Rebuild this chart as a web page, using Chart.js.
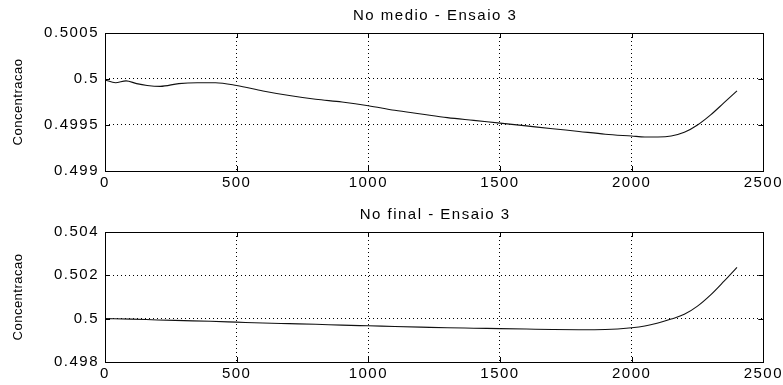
<!DOCTYPE html>
<html>
<head>
<meta charset="utf-8">
<script src="https://cdn.jsdelivr.net/npm/chart.js@4"></script>
<style>
  html, body { margin: 0; padding: 0; background: #fff; }
  #wrap { position: relative; width: 783px; height: 385px; }
  .pane { position: absolute; left: 0; width: 783px; }
</style>
</head>
<body>
<div id="wrap">
  <div class="pane" style="top:0;height:192px"><canvas id="c1"></canvas></div>
  <div class="pane" style="top:192px;height:193px"><canvas id="c2"></canvas></div>
</div>
<script>
// Time axis (shared by both panels)
const timeTicks = [0, 500, 1000, 1500, 2000, 2500];

// Panel 1: concentration at the middle node
const medioTitle = 'No medio - Ensaio 3';
const medioTime = [0, 40, 80, 120, 160, 210, 280, 350, 420, 500, 600, 700, 800, 900, 1000,
  1100, 1200, 1300, 1400, 1500, 1600, 1700, 1800, 1900, 2000, 2050, 2100, 2150, 2200,
  2250, 2300, 2350, 2400];
const medioConc = [0.49999, 0.49996, 0.49998, 0.49995, 0.49993, 0.49992, 0.49995, 0.49996,
  0.49996, 0.49993, 0.49987, 0.49982, 0.49978, 0.49975, 0.49971, 0.49966, 0.49962, 0.49958,
  0.49955, 0.49952, 0.49949, 0.49946, 0.49943, 0.49940, 0.49938, 0.49937, 0.49937, 0.49938,
  0.49942, 0.49950, 0.49961, 0.49974, 0.49987];
const medioTicks = [0.499, 0.4995, 0.5, 0.5005];
const medioTickLabels = ['0.499', '0.4995', '0.5', '0.5005'];

// Panel 2: concentration at the final node
const finalTitle = 'No final - Ensaio 3';
const finalTime = [0, 100, 200, 300, 400, 500, 600, 700, 800, 900, 1000, 1100, 1200, 1300,
  1400, 1500, 1600, 1700, 1800, 1900, 2000, 2050, 2100, 2150, 2200, 2250, 2300, 2350, 2400];
const finalConc = [0.5, 0.49998, 0.49994, 0.49991, 0.49988, 0.49984, 0.49980, 0.49977,
  0.49974, 0.49970, 0.49967, 0.49964, 0.49961, 0.49958, 0.49956, 0.49954, 0.49952, 0.49950,
  0.49949, 0.49950, 0.49958, 0.49966, 0.49980, 0.49998, 0.50020, 0.50058, 0.50110, 0.50172,
  0.50237];
const finalTicks = [0.498, 0.5, 0.502, 0.504];
const finalTickLabels = ['0.498', '0.5', '0.502', '0.504'];

const yLabel = 'Concentracao';
const FONT = '"Liberation Sans", Arial, sans-serif';

// Wide-set lettering for the tick labels
const spacingPlugin = {
  id: 'spacing',
  beforeDraw(chart) { chart.ctx.letterSpacing = '1.5px'; }
};

// Box around the axes, inward tick marks, panel title and y-axis label
const framePlugin = {
  id: 'frame',
  afterDraw(chart, args, opts) {
    const { ctx, chartArea: a, scales } = chart;
    ctx.save();
    ctx.strokeStyle = '#000';
    ctx.lineWidth = 1;
    ctx.strokeRect(Math.round(a.left) + 0.5, Math.round(a.top) + 0.5,
      Math.round(a.right - a.left), Math.round(a.bottom - a.top));
    ctx.beginPath();
    scales.x.ticks.forEach(t => {
      const px = Math.round(scales.x.getPixelForValue(t.value)) + 0.5;
      ctx.moveTo(px, a.bottom); ctx.lineTo(px, a.bottom - 5);
      ctx.moveTo(px, a.top); ctx.lineTo(px, a.top + 5);
    });
    scales.y.ticks.forEach(t => {
      const py = Math.round(scales.y.getPixelForValue(t.value)) + 0.5;
      ctx.moveTo(a.left, py); ctx.lineTo(a.left + 5, py);
      ctx.moveTo(a.right, py); ctx.lineTo(a.right - 5, py);
    });
    ctx.stroke();
    ctx.fillStyle = '#000';
    ctx.textAlign = 'center';
    ctx.textBaseline = 'middle';
    ctx.font = '15px ' + FONT;
    ctx.letterSpacing = '1.5px';
    ctx.fillText(opts.text, (a.left + a.right) / 2 + 1, a.top - opts.gap);
    ctx.font = '13px ' + FONT;
    ctx.letterSpacing = '0.5px';
    ctx.translate(18, (a.top + a.bottom) / 2);
    ctx.rotate(-Math.PI / 2);
    ctx.fillText(yLabel, 0, 0);
    ctx.restore();
  }
};

function makePanel(id, title, times, conc, yMin, yMax, yTicks, yLabels, padTop, xAxisH, titleGap) {
  const points = times.map((t, i) => ({ x: t, y: conc[i] }));
  return new Chart(document.getElementById(id), {
    type: 'line',
    data: {
      datasets: [{
        data: points,
        borderColor: '#111',
        borderWidth: 1.1,
        pointRadius: 0,
        cubicInterpolationMode: 'monotone',
        fill: false
      }]
    },
    options: {
      responsive: true,
      maintainAspectRatio: false,
      animation: false,
      events: [],
      layout: { padding: { top: padTop, right: 19, left: 0, bottom: 0 } },
      plugins: {
        legend: { display: false },
        tooltip: { enabled: false },
        frame: { text: title, gap: titleGap }
      },
      scales: {
        x: {
          type: 'linear',
          min: 0, max: 2500,
          afterBuildTicks: s => { s.ticks = timeTicks.map(v => ({ value: v })); },
          afterFit: s => { s.height = xAxisH; },
          ticks: {
            color: '#000', font: { family: FONT, size: 15 }, padding: 3,
            maxRotation: 0, autoSkip: false,
            callback: v => String(v)
          },
          grid: { color: '#000', lineWidth: 1, drawTicks: false },
          border: { display: false, dash: [1, 3] }
        },
        y: {
          type: 'linear',
          min: yMin, max: yMax,
          afterBuildTicks: s => { s.ticks = yTicks.map(v => ({ value: v })); },
          afterFit: s => { s.width = 105; },
          ticks: {
            color: '#000', font: { family: FONT, size: 15 }, padding: 6,
            autoSkip: false,
            callback: (v, i) => yLabels[i]
          },
          grid: { color: '#000', lineWidth: 1, drawTicks: false },
          border: { display: false, dash: [1, 3] }
        }
      }
    },
    plugins: [spacingPlugin, framePlugin]
  });
}

makePanel('c1', medioTitle, medioTime, medioConc, 0.499, 0.5005, medioTicks, medioTickLabels, 33, 21, 17);
makePanel('c2', finalTitle, finalTime, finalConc, 0.498, 0.504, finalTicks, finalTickLabels, 40, 23, 17);
</script>
</body>
</html>
